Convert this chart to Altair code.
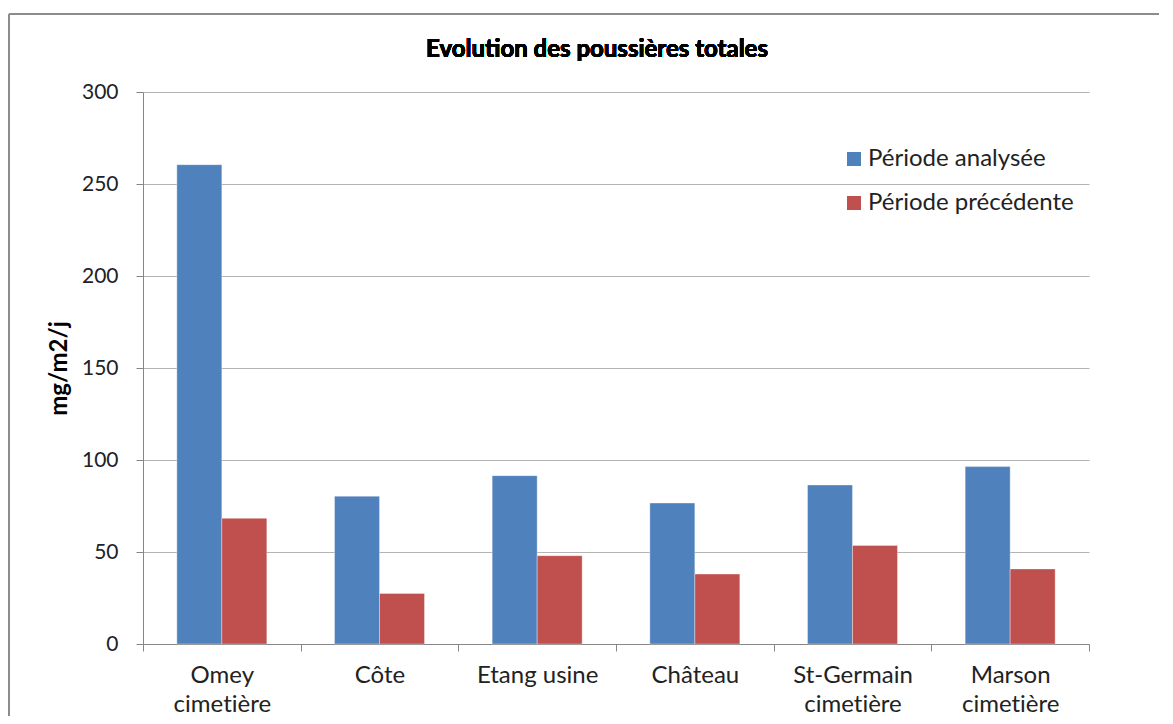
import altair as alt
import pandas as pd

categories = ["Omey\ncimet\u200cière", "Côte", "Etang usine", "Château",
              "St-Germain\ncimet\u200cière", "Marson\ncimet\u200cière"]
series = ["Période analysée", "Période précédente"]
analysee = [260.5, 80.3, 91.5, 76.6, 86.4, 96.4]
precedente = [68.3, 27.5, 48.0, 38.0, 53.6, 40.8]
colors = ["#4F81BD", "#C0504D"]
title_text = "Evolution des poussières totales"

rows = []
for c, a, p in zip(categories, analysee, precedente):
    rows.append({"site": c, "serie": series[0], "value": a})
    rows.append({"site": c, "serie": series[1], "value": p})
df = pd.DataFrame(rows)

FONT = "Lato"
W, H = 946, 552

bars = alt.Chart(df).mark_bar(stroke="#ffffff", strokeOpacity=0.35, strokeWidth=1).encode(
    x=alt.X("site:N", sort=categories, title=None,
            scale=alt.Scale(paddingInner=0, paddingOuter=0),
            axis=alt.Axis(labelExpr="split(datum.label, '\\n')", labelAngle=0,
                          tickBand="extent", tickSize=7, labelPadding=12,
                          labelLineHeight=29, labelFontSize=24, labelColor="#222222",
                          domainColor="#868686", tickColor="#868686", grid=False,
                          labelLimit=0)),
    xOffset=alt.XOffset("serie:N", sort=series,
                        scale=alt.Scale(paddingInner=0, paddingOuter=0.752)),
    y=alt.Y("value:Q", title="mg/m2/j",
            scale=alt.Scale(domain=[0, 300], nice=False),
            axis=alt.Axis(values=[0, 50, 100, 150, 200, 250, 300], tickSize=7,
                          labelPadding=18, labelFontSize=21, labelColor="#222222",
                          domainColor="#868686", tickColor="#868686",
                          gridColor="#B4B4B4", grid=True,
                          titleFontSize=24, titleFontWeight="bold", titleColor="#000000",
                          titleAngle=-90, titleX=-84, titleY=276,
                          titleAlign="center", titleBaseline="middle")),
    color=alt.Color("serie:N", sort=series,
                    scale=alt.Scale(domain=series, range=colors),
                    legend=alt.Legend(title=None, orient="none", legendX=699, legendY=55,
                                      symbolType="square", symbolSize=196,
                                      symbolStrokeWidth=0, labelFontSize=24,
                                      labelColor="#222222", rowPadding=20,
                                      labelOffset=2, padding=0, labelLimit=0)),
)

title = alt.Chart(df).mark_text(
    font=FONT, fontSize=24, fontWeight="bold", color="#000000",
    align="center", baseline="middle"
).encode(x=alt.value(454), y=alt.value(-42), text=alt.value(title_text))

frame_top = alt.Chart(df).mark_rule(color="#8C8C8C", strokeWidth=2).encode(
    x=alt.value(-134), x2=alt.value(1040), y=alt.value(-78)
)
frame_left = alt.Chart(df).mark_rule(color="#8C8C8C", strokeWidth=2).encode(
    x=alt.value(-134), y=alt.value(-78), y2=alt.value(640)
)

chart = alt.layer(bars, title, frame_top, frame_left).properties(
    width=W, height=H,
    autosize=alt.AutoSizeParams(type="none"),
    padding={"left": 135, "top": 84, "right": 70, "bottom": 72},
).configure(font=FONT).configure_view(stroke=None).configure_axis(
    labelFont=FONT, titleFont=FONT
).configure_legend(labelFont=FONT)

chart.save("out.html", embed_options={"renderer": "svg", "actions": False})
